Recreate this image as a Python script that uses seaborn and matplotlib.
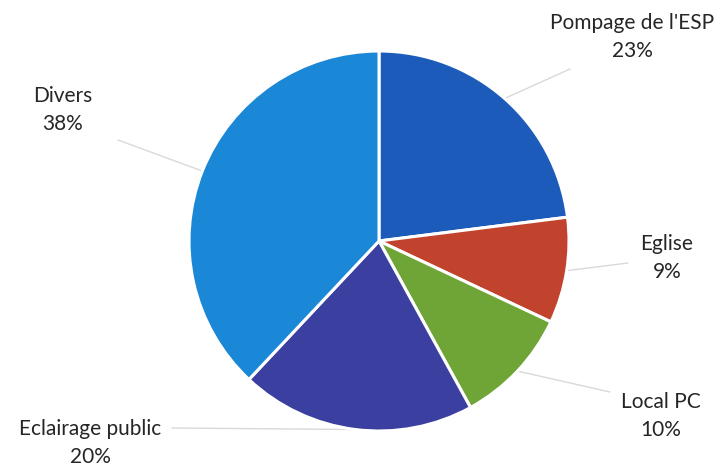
import numpy as np
import matplotlib
matplotlib.use("Agg")
import matplotlib.pyplot as plt
import seaborn as sns

categories = ["Pompage de l'ESP", "Eglise", "Local PC", "Eclairage public", "Divers"]
shares = [23, 9, 10, 20, 38]
colors = ["#1d5bbb", "#c1432d", "#6fa537", "#3b3f9f", "#1b87d7"]

sns.set_theme(style="white")
plt.rcParams["font.family"] = ["Lato", "DejaVu Sans"]

W, H = 714, 468
CX, CY, R = 379, 241, 190  # pie centre and radius in pixels

fig = plt.figure(figsize=(W / 100, H / 100), dpi=100)
ax = fig.add_axes([0, 0, 1, 1])

wedges, _ = ax.pie(shares, colors=colors, startangle=90, counterclock=False,
                   radius=1, center=(0, 0),
                   wedgeprops=dict(edgecolor="white", linewidth=2.2))

ax.set_xlim(-CX / R, (W - CX) / R)
ax.set_ylim(-(H - CY) / R, CY / R)
ax.set_aspect("auto")
ax.axis("off")


def px(x, y):
    return ((x - CX) / R, (CY - y) / R)


# label centre (pixels) and leader line start (pixels) for each slice
label_pos = [(632, 37), (667, 258), (661, 416), (90, 443), (63, 110)]
leader_start = [(570, 69), (628, 263), (610, 392), (172, 428), (118, 140)]

for w, name, val, lp, ls in zip(wedges, categories, shares, label_pos, leader_start):
    mid = np.deg2rad((w.theta1 + w.theta2) / 2)
    ex, ey = np.cos(mid), np.sin(mid)
    sx, sy = px(*ls)
    ax.plot([sx, ex], [sy, ey], color="#d9d9d9", lw=1.0, zorder=0)
    tx, ty = px(*lp)
    ax.text(tx, ty, f"{name}\n{val}%", ha="center", va="center",
            fontsize=15, color="#262626", linespacing=1.55,
            bbox=dict(boxstyle="square,pad=0.2", fc="white", ec="none"))

fig.savefig("out.png", dpi=100, facecolor="white")
